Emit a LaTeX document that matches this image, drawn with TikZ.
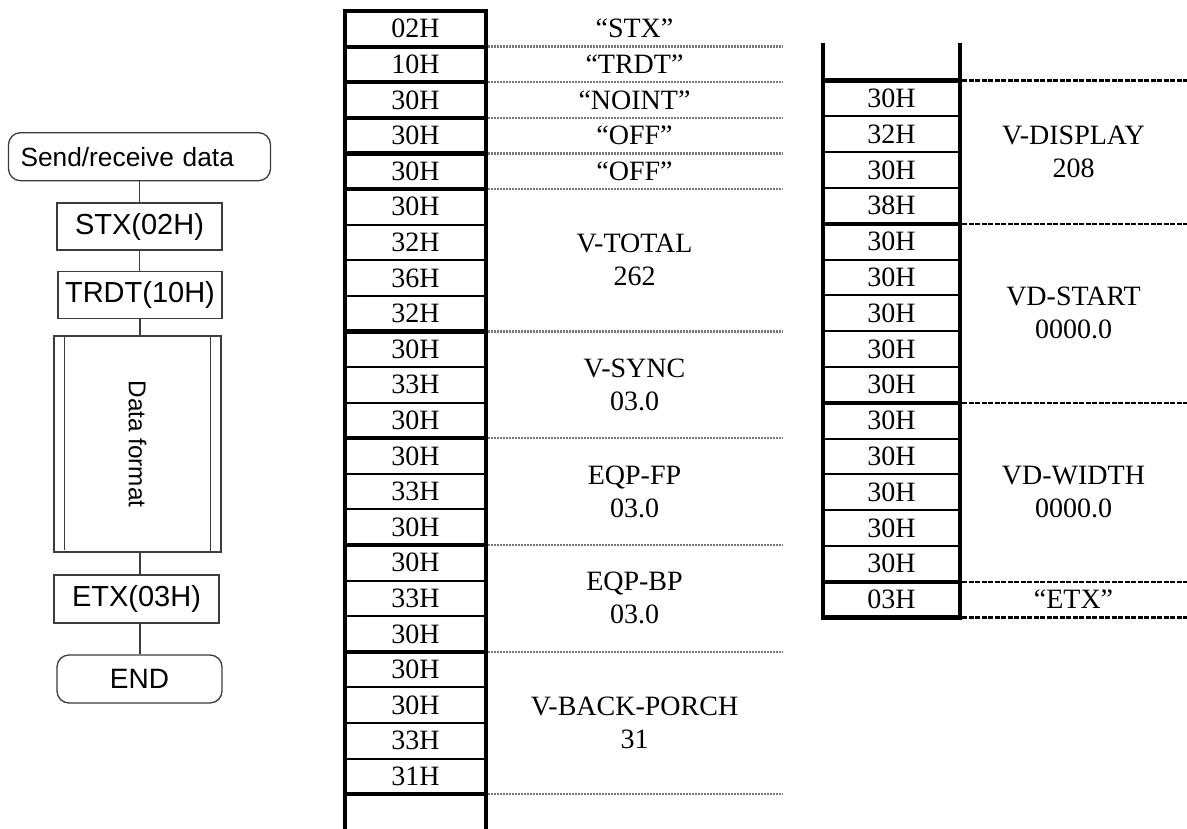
\documentclass[tikz,border=0pt]{standalone}
\usepackage{fontspec}
\setmainfont{Liberation Serif}
\newfontfamily\arialf{Liberation Sans}
\definecolor{dotgrey}{RGB}{120,120,120}
\definecolor{flowgrey}{RGB}{60,60,60}
\begin{document}
\begin{tikzpicture}[x=1pt,y=-1pt,
  thickrule/.style={line width=4.2pt},
  thinrule/.style={line width=2pt},
  greydots/.style={line width=2.4pt, draw=dotgrey, dash pattern=on 2pt off 1pt},
  darkdots/.style={line width=2.4pt, draw=black, dash pattern=on 5pt off 1.5pt},
  cell/.style={font=\fontsize{28}{33}\selectfont, inner sep=0pt},
  lbl/.style={font=\fontsize{28}{33}\selectfont, align=center, inner sep=0pt},
  fbox/.style={draw=flowgrey, line width=1.3pt, font=\arialf\fontsize{29}{33}\selectfont, inner sep=0pt},
  conn/.style={draw=flowgrey, line width=1.3pt}]
\useasboundingbox (0,0) rectangle (1187,828);

% ---------------- flowchart ----------------
\node[fbox, rounded corners=12pt, minimum width=262pt, minimum height=48pt,
      text width=238pt, align=left, font=\arialf\fontsize{26.3}{30}\selectfont]
      (send) at (139.5,156.7) {Send/receive data};
\node[fbox, minimum width=165pt, minimum height=47pt] (stx) at (139.5,226.5) {STX(02H)};
\node[fbox, minimum width=164pt, minimum height=47pt] (trdt) at (140,295) {TRDT(10H)};
\node[fbox, minimum width=167pt, minimum height=216pt] (data) at (137.5,444) {};
\node[rotate=-90, inner sep=0pt, font=\arialf\fontsize{24.3}{28}\selectfont] (datatext) at (data.center) {Data format};
\draw[conn] ([xshift=11pt]data.north west) -- ([xshift=11pt,yshift=3pt]data.south west);
\draw[conn] ([xshift=-11pt]data.north east) -- ([xshift=-11pt]data.south east);
\node[fbox, minimum width=165pt, minimum height=48pt] (etx) at (136.5,599) {ETX(03H)};
\node[fbox, rounded corners=12pt, minimum width=165pt, minimum height=48pt,
      font=\arialf\fontsize{28}{32}\selectfont] (end) at (139.5,679) {END};

\draw[conn] (send.south) -- (send.south |- stx.north);
\draw[conn] (stx.south) -- (stx.south |- trdt.north);
\draw[conn] (trdt.south) -- (trdt.south |- data.north);
\draw[conn] (data.south -| trdt.south) -- (trdt.south |- etx.north);
\draw[conn] (etx.south -| trdt.south) -- (trdt.south |- end.north);

% ---------------- middle column ----------------
\def\mL{345}\def\mR{486}\def\mT{11}\def\mP{35.6}
\draw[thickrule] (\mL,{\mT-2.1}) -- (\mL,830);
\draw[thickrule] (\mR,{\mT-2.1}) -- (\mR,830);
\foreach \k in {6,7,8,10,11,13,14,16,17,19,20,21}
  \draw[thinrule] (\mL,{\mT+\k*\mP}) -- (\mR,{\mT+\k*\mP});
\foreach \k in {0,1,2,3,4,5,9,12,15,18,22}
  \draw[thickrule] (\mL,{\mT+\k*\mP}) -- (\mR,{\mT+\k*\mP});
\foreach \t [count=\i from 0] in {02H,10H,30H,30H,30H,30H,32H,36H,32H,30H,33H,30H,30H,33H,30H,30H,33H,30H,30H,30H,33H,31H}
  \node[cell] (mc\i) at ({(\mL+\mR)/2},{\mT+(\i+0.5)*\mP}) {\t};
\foreach \k in {1,2,3,4,5,9,12,15,18,22}
  \draw[greydots] ({\mR+2.1},{\mT+\k*\mP}) -- (783,{\mT+\k*\mP});
\foreach \a/\b/\t in {0/1/{“STX”},1/2/{“TRDT”},2/3/{“NOINT”},3/4/{“OFF”},4/5/{“OFF”},
    5/9/{V-TOTAL\\262},9/12/{V-SYNC\\03.0},12/15/{EQP-FP\\03.0},15/18/{EQP-BP\\03.0},18/22/{V-BACK-PORCH\\31}}
  \node[lbl] (ml\a) at (634.5,{\mT+(\a+\b)/2*\mP}) {\t};

% ---------------- right column ----------------
\def\rL{823}\def\rR{960}\def\rT{80.5}\def\rP{35.8}
\draw[thickrule] (\rL,43) -- (\rL,{\rT+15*\rP+2.1});
\draw[thickrule] (\rR,43) -- (\rR,{\rT+15*\rP+2.1});
\foreach \k in {1,2,3,5,6,7,8,10,11,12,13}
  \draw[thinrule] (\rL,{\rT+\k*\rP}) -- (\rR,{\rT+\k*\rP});
\foreach \k in {0,4,9,14,15}
  \draw[thickrule] (\rL,{\rT+\k*\rP}) -- (\rR,{\rT+\k*\rP});
\foreach \t [count=\i from 0] in {30H,32H,30H,38H,30H,30H,30H,30H,30H,30H,30H,30H,30H,30H,03H}
  \node[cell] (rc\i) at ({(\rL+\rR)/2},{\rT+(\i+0.5)*\rP}) {\t};
\foreach \k in {0,4,9,14,15}
  \draw[darkdots] ({\rR+2.1},{\rT+\k*\rP}) -- (1187,{\rT+\k*\rP});
\foreach \a/\b/\t in {0/4/{V-DISPLAY\\208},4/9/{VD-START\\0000.0},9/14/{VD-WIDTH\\0000.0},14/15/{“ETX”}}
  \node[lbl] (rl\a) at (1073.5,{\rT+(\a+\b)/2*\rP}) {\t};
\end{tikzpicture}
\end{document}
